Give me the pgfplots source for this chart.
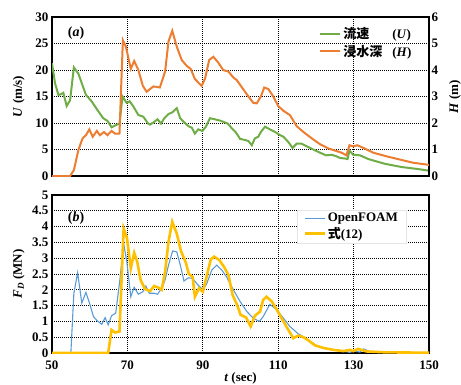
\documentclass[border=0pt]{standalone}
\usepackage{fontspec}
\setmainfont{Liberation Serif}
\newfontfamily\cjk{Noto Sans CJK JP}
\usepackage{pgfplots}
\pgfplotsset{compat=1.18}
\definecolor{cU}{HTML}{70AD47}
\definecolor{cH}{HTML}{ED7D31}
\definecolor{cOF}{HTML}{5B9BD5}
\definecolor{cEq}{HTML}{FFC000}
\begin{document}
\begin{tikzpicture}
\path[use as bounding box] (0,0) rectangle (461pt,384pt);
\pgfplotsset{common/.style={
  scale only axis, width=377pt, xmin=50, xmax=150,
  axis line style={line width=1.2pt, black},
  major tick length=0pt,
  tick label style={font=\bfseries\fontsize{13}{14}\selectfont},
  /pgf/number format/assume math mode=true,
  grid style={black, line width=0.7pt, dash pattern=on 1pt off 1pt},
  label style={font=\bfseries\fontsize{13}{15}\selectfont},
  legend image code/.code={\draw[##1] (0pt,0pt) -- (20pt,0pt);},
  legend cell align=left,
}}
% ---------- (a) ----------
\begin{axis}[common, at={(52pt,208pt)}, anchor=south west, height=159pt,
  ymin=0, ymax=30, ytick={0,5,...,30}, xtick={50,70,...,150}, xticklabels={},
  grid=major,
  ylabel={\textit{U} (m/s)},
  ylabel style={at={(axis description cs:-0.088,0.5)}, anchor=center},
]
\addplot[cU, line width=2pt] coordinates {
(50,21.3)(50.8,17.5)(51.7,15.3)(52.3,15.4)(53,15.7)(53.9,13.2)(54.8,14.3)(55.8,20.5)
(57,19.3)(57.9,17.5)(59,15.3)(60.5,14.1)(61.9,12.6)(63.6,10.9)(64.7,10.4)(65.8,9.2)
(67.2,9.7)(67.9,9.8)(68.7,15.0)(69.8,13.8)(70.6,14.1)(71.6,13.1)(72.9,11.5)(74.2,11.2)
(75.5,9.9)(76.0,9.7)(76.9,10.1)(78,10.7)(78.9,9.9)(79.8,10.9)(80.9,11.7)(81.9,12.0)
(83.1,12.8)(84,10.9)(85.1,10.1)(86.2,9.4)(87.1,9.1)(87.9,8.0)(88.8,8.8)(89.9,8.5)
(90.8,9.3)(91.9,10.9)(93.2,10.7)(94.8,10.4)(96.6,9.9)(97.7,9.0)(98.7,8.3)(99.9,7.0)
(101.2,6.8)(102.1,6.6)(103,5.8)(103.8,7.1)(104.7,7.4)(105.4,8.3)(106.5,9.3)(107.8,8.8)
(109.2,8.3)(110.3,7.8)(111.4,7.4)(112.7,6.4)(113.8,5.3)(114.9,6.1)(116.2,6.1)(117.6,5.6)
(119.3,5.0)(121.1,4.4)(122.7,3.9)(124.2,4.0)(125.5,3.7)(126.4,3.4)(127.7,3.3)(128.4,3.2)
(128.9,4.8)(129.9,4.0)(131.7,3.9)(133.9,3.2)(138.3,2.3)(142.7,1.7)(147.2,1.3)(150,1.0)
};
\node[font=\bfseries\fontsize{14}{16}\selectfont, inner sep=1pt] at (axis description cs:0.064,0.90) {(\textit{a})};
\end{axis}
\begin{axis}[common, at={(52pt,208pt)}, anchor=south west, height=159pt,
  ymin=0, ymax=6, ytick={0,1,...,6},
  axis y line*=right, axis x line=none,
  yticklabel style={xshift=-1pt},
  ylabel={\textit{H} (m)},
  ylabel style={at={(axis description cs:1.069,0.5)}, anchor=center},
  legend style={draw=none, fill=none, at={(axis description cs:0.706,0.955)}, anchor=north west,
    font=\bfseries\fontsize{13}{15}\selectfont, row sep=1pt, inner sep=1pt},
]
\addlegendimage{cU, line width=2pt}
\addlegendentry{\makebox[49pt][l]{\cjk\bfseries 流速}(\textit{U})}
\addplot[cH, line width=2pt] coordinates {
(50,0)(54.8,0)(55.8,0.22)(57,0.98)(58.1,1.42)(59,1.54)(59.9,1.76)(60.8,1.48)(61.9,1.70)
(62.7,1.54)(63.8,1.66)(64.7,1.54)(65.8,1.70)(66.7,1.60)(67.9,1.60)(68.8,5.12)(69.6,4.88)
(70.9,4.04)(71.8,4.34)(72.9,4.00)(74.1,3.40)(75.1,3.18)(76.9,3.38)(78.6,3.34)(80,3.94)
(80.9,5.08)(81.9,5.48)(83.1,4.88)(84.4,4.38)(85.7,4.16)(86.8,4.04)(87.9,3.66)(89.7,3.40)
(90.6,3.68)(91.7,4.38)(92.8,4.50)(94.1,4.28)(95.4,4.00)(96.8,3.94)(98.1,3.72)(99,3.62)
(100.7,3.28)(102.1,3.00)(103.4,2.76)(104.3,2.74)(105.4,3.00)(106.3,3.34)(107.4,3.28)
(108.7,3.00)(110,2.64)(111.4,2.46)(113.1,2.30)(114.9,1.88)(116.7,1.66)(118.9,1.42)
(121.1,1.20)(123.3,1.04)(125.5,0.94)(126.8,0.88)(128.1,0.78)(128.9,1.16)(129.9,1.12)
(131,1.16)(132.6,1.06)(135.2,0.88)(138.8,0.74)(142.3,0.62)(145.8,0.50)(150,0.42)
};
\addlegendentry{\makebox[49pt][l]{\cjk\bfseries 浸水深}(\textit{H})}
\end{axis}
% ---------- (b) ----------
\begin{axis}[common, at={(52pt,31pt)}, anchor=south west, height=158pt,
  ymin=0, ymax=5, ytick={0,0.5,...,5}, xtick={50,70,...,150},
  yticklabel style={/pgf/number format/.cd, fixed, precision=1},
  xticklabel style={yshift=-4pt},
  grid=major,
  ylabel={\textit{F\textsubscript{D}} (MN)},
  ylabel style={at={(axis description cs:-0.088,0.5)}, anchor=center},
  xlabel={\textit{t} (sec)},
  xlabel style={at={(axis description cs:0.5,-0.16)}, anchor=center},
  legend style={draw=gray!20, fill=white, at={(axis description cs:0.65,0.696)}, anchor=south west,
    font=\bfseries\fontsize{13}{15}\selectfont, row sep=0pt, inner xsep=6pt, inner ysep=1pt},
]
\addplot[cOF, line width=1.1pt] coordinates {
(50,0)(55,0)(55.8,1.89)(56.8,2.54)(57.9,1.58)(59,1.92)(60.1,1.52)(61,1.15)(62,1.02)
(63.2,0.91)(64.1,1.12)(64.9,0.89)(65.8,1.18)(66.9,1.26)(68,2.31)(69,3.47)(69.9,2.84)
(70.9,1.78)(71.8,2.08)(72.9,1.86)(74.1,1.94)(74.9,2.12)(75.8,1.89)(77.1,1.89)(78,1.86)
(79.1,2.05)(80,2.31)(80.9,2.78)(82,3.23)(83.1,3.20)(84.1,2.75)(85,2.28)(86.2,2.38)
(87.3,2.36)(88.5,2.18)(90,2.0)(91,2.18)(92.4,2.63)(93.7,2.78)(95,2.63)(96.3,2.41)
(98.1,2.0)(99.9,1.63)(101.7,1.31)(103.4,1.10)(105,1.0)(106,1.15)(107.8,1.54)(109.6,1.37)
(111.4,1.10)(113.1,0.84)(115.3,0.61)(117.5,0.45)(120.2,0.23)(122.8,0.13)(126.3,0.08)
(129,0.02)(130,0.06)(131.7,0.03)(132.6,0.13)(134.3,0.05)(140,0.02)(150,0.01)
};
\addlegendentry{OpenFOAM}
\addplot[cEq, line width=2.6pt] coordinates {
(50,0)(64.9,0)(65.8,0.73)(66.7,0.65)(67.9,0.68)(69,3.94)(69.9,3.63)(70.9,2.68)(71.8,3.17)
(72.6,2.89)(73.5,2.31)(74.7,2.02)(76,1.96)(77.1,2.12)(78.2,2.07)(79.1,2.0)(80,2.57)
(80.9,3.52)(81.9,4.15)(83.1,3.78)(84.2,3.23)(85.5,2.86)(86.3,2.5)(87.3,2.41)(87.9,1.78)
(89,2.05)(90,1.94)(91,2.41)(92.1,2.96)(93,3.05)(94.4,2.94)(95.6,2.73)(96.8,2.47)
(97.9,1.84)(99.2,1.49)(100,1.21)(101.5,1.12)(102.7,0.84)(103.8,1.18)(105.2,1.31)(106,1.68)
(106.9,1.78)(108.3,1.63)(109.4,1.42)(110.9,1.10)(112.7,0.73)(114,0.47)(115.3,0.55)
(116.7,0.50)(118,0.40)(119.8,0.24)(122,0.16)(124.6,0.10)(127.3,0.06)(129,0.10)(129.9,0.06)
(131.2,0.13)(133.4,0.05)(138.7,0.02)(150,0.01)
};
\addlegendentry{{\cjk\bfseries 式}(12)}
\node[font=\bfseries\fontsize{14}{16}\selectfont, fill=white, inner sep=1pt] at (axis description cs:0.064,0.854) {(\textit{b})};
\end{axis}
\end{tikzpicture}
\end{document}
